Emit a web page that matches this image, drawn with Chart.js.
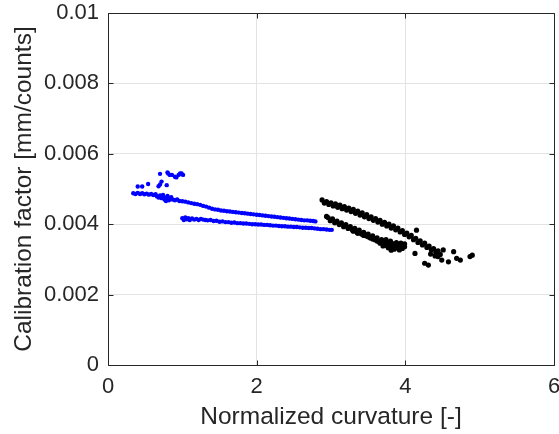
<!DOCTYPE html>
<html>
<head>
<meta charset="utf-8">
<script src="https://cdn.jsdelivr.net/npm/chart.js@4.4.0/dist/chart.umd.min.js"></script>
<style>
  html, body { margin: 0; padding: 0; background: #fff; }
  canvas { display: block; }
</style>
</head>
<body>
<canvas id="chart" width="559" height="434"></canvas>
<script>
// axis ticks
const xTicks = [0, 2, 4, 6];
const yTicks = [0, 0.002, 0.004, 0.006, 0.008, 0.01];

// blue series: upper branch
const blueUpperX = [0.34, 0.37, 0.40, 0.43, 0.46, 0.49, 0.52, 0.55, 0.58, 0.61, 0.64,
  0.66, 0.68, 0.70, 0.72, 0.74, 0.76, 0.78, 0.80, 0.82, 0.84, 0.87, 0.90, 0.93, 0.96,
  1.00, 1.04, 1.08, 1.12, 1.16, 1.20, 1.24, 1.28, 1.32, 1.36, 1.40, 1.44, 1.48, 1.52, 1.56,
  1.60, 1.64, 1.68, 1.72, 1.76, 1.80, 1.84, 1.88, 1.92, 1.96, 2.00, 2.04, 2.08, 2.12, 2.16,
  2.20, 2.24, 2.28, 2.32, 2.36, 2.40, 2.44, 2.48, 2.52, 2.56, 2.60, 2.64, 2.68, 2.72, 2.76, 2.79];
const blueUpperY = [0.00488, 0.00486, 0.00489, 0.00486, 0.00488, 0.00485, 0.00487, 0.00484, 0.00486, 0.00483, 0.00485,
  0.00479, 0.00476, 0.00482, 0.00474, 0.00478, 0.00470, 0.00475, 0.00472, 0.00468, 0.00474, 0.00470, 0.00468, 0.00470, 0.00466,
  0.00465, 0.00464, 0.00462, 0.00460, 0.00458, 0.00457, 0.00455, 0.00452, 0.00450, 0.00447, 0.00444, 0.00442, 0.00441, 0.00439, 0.00438,
  0.00437, 0.00436, 0.00435, 0.00434, 0.00433, 0.00432, 0.00431, 0.00430, 0.00429, 0.00428, 0.00427, 0.00426, 0.00425, 0.00424, 0.00423,
  0.00422, 0.00421, 0.00420, 0.00419, 0.00418, 0.00417, 0.00416, 0.00415, 0.00414, 0.00413, 0.00412, 0.00411, 0.00411, 0.00410, 0.00409, 0.00408];

// blue series: lower branch
const blueLowerX = [1.00, 1.02, 1.04, 1.06, 1.08, 1.10, 1.13, 1.16, 1.19, 1.22, 1.25, 1.28, 1.31, 1.34,
  1.38, 1.42, 1.46, 1.50, 1.54, 1.58, 1.62, 1.66, 1.70, 1.74, 1.78, 1.82, 1.86, 1.90, 1.94, 1.98,
  2.02, 2.06, 2.10, 2.14, 2.18, 2.22, 2.26, 2.30, 2.34, 2.38, 2.42, 2.46, 2.50, 2.54, 2.58, 2.62,
  2.66, 2.70, 2.74, 2.78, 2.82, 2.86, 2.90, 2.94, 2.98, 3.01];
const blueLowerY = [0.00417, 0.00412, 0.00419, 0.00414, 0.00417, 0.00412, 0.00416, 0.00413, 0.00415, 0.00412, 0.00415, 0.00413, 0.00412, 0.00411,
  0.00412, 0.00409, 0.00410, 0.00407, 0.00408, 0.00406, 0.00406, 0.00404, 0.00405, 0.00403, 0.00403, 0.00402, 0.00402, 0.00401, 0.00400, 0.00400,
  0.00399, 0.00399, 0.00398, 0.00398, 0.00397, 0.00396, 0.00396, 0.00395, 0.00394, 0.00394, 0.00393, 0.00393, 0.00392, 0.00392, 0.00391, 0.00390,
  0.00390, 0.00389, 0.00389, 0.00388, 0.00387, 0.00386, 0.00386, 0.00385, 0.00384, 0.00384];

// blue series: scattered points above the branch
const blueSpreadX = [0.40, 0.46, 0.54, 0.68, 0.70, 0.72, 0.79, 0.70, 0.80, 0.81, 0.83, 0.86, 0.90, 0.92, 0.95, 0.97, 0.99, 1.01, 0.74, 0.78, 0.80, 0.85];
const blueSpreadY = [0.00507, 0.00507, 0.00514, 0.00508, 0.00513, 0.00521, 0.00511, 0.00543, 0.00547, 0.00544, 0.00540, 0.00540, 0.00535, 0.00533, 0.00540, 0.00544, 0.00544, 0.00540, 0.00483, 0.00466, 0.00480, 0.00477];

// black series: upper branch
const blackUpperX = [2.88, 2.91, 2.94, 2.97, 3.00, 3.03, 3.06, 3.09, 3.12, 3.15, 3.18, 3.21, 3.24, 3.27, 3.30, 3.33, 3.36, 3.39,
  3.42, 3.45, 3.48, 3.51, 3.54, 3.57, 3.60, 3.63, 3.66, 3.69, 3.72, 3.75, 3.78, 3.81, 3.84, 3.87, 3.90, 3.93,
  3.96, 3.99, 4.02, 4.05, 4.08, 4.11, 4.14, 4.17, 4.20, 4.23, 4.26, 4.29, 4.32, 4.35, 4.38, 4.41, 4.44, 4.47];
const blackUpperY = [0.00469, 0.00460, 0.00464, 0.00456, 0.00461, 0.00452, 0.00458, 0.00448, 0.00454, 0.00444, 0.00450, 0.00440, 0.00446, 0.00436, 0.00442, 0.00431, 0.00437, 0.00426,
  0.00432, 0.00421, 0.00427, 0.00416, 0.00421, 0.00411, 0.00416, 0.00406, 0.00411, 0.00400, 0.00405, 0.00395, 0.00400, 0.00389, 0.00395, 0.00384, 0.00389, 0.00378,
  0.00382, 0.00371, 0.00375, 0.00364, 0.00368, 0.00356, 0.00360, 0.00348, 0.00353, 0.00341, 0.00346, 0.00334, 0.00338, 0.00327, 0.00331, 0.00320, 0.00324, 0.00314];

// black series: lower branch
const blackLowerX = [2.96, 2.99, 3.02, 3.05, 3.08, 3.11, 3.14, 3.17, 3.20, 3.23, 3.26, 3.29, 3.32,
  3.35, 3.38, 3.41, 3.44, 3.47, 3.50, 3.53, 3.56, 3.59, 3.62, 3.65, 3.68, 3.71,
  3.30, 3.36, 3.44, 3.50, 3.56, 3.62, 3.66];
const blackLowerY = [0.00419, 0.00410, 0.00415, 0.00404, 0.00409, 0.00399, 0.00404, 0.00393, 0.00399, 0.00388, 0.00393, 0.00383, 0.00388,
  0.00377, 0.00383, 0.00372, 0.00377, 0.00367, 0.00372, 0.00361, 0.00367, 0.00356, 0.00361, 0.00351, 0.00356, 0.00345,
  0.00380, 0.00374, 0.00368, 0.00364, 0.00358, 0.00352, 0.00346];

// black series: dense cluster at the end of the lower branch
const blackClusterX = [3.70, 3.72, 3.74, 3.74, 3.76, 3.77, 3.79, 3.80, 3.81, 3.82, 3.83, 3.85, 3.86, 3.88, 3.89, 3.90, 3.92, 3.93, 3.94, 3.96, 3.97, 3.99];
const blackClusterY = [0.00338, 0.00352, 0.00340, 0.00356, 0.00347, 0.00333, 0.00343, 0.00352, 0.00326, 0.00336, 0.00345, 0.00329, 0.00340, 0.00348, 0.00333, 0.00342, 0.00327, 0.00337, 0.00346, 0.00331, 0.00339, 0.00344];

// black series: scattered points
const blackSpreadX = [2.94, 4.15, 3.99, 4.13, 4.26, 4.31, 4.34, 4.40, 4.44, 4.49, 4.51, 4.58, 4.65, 4.69, 4.74, 4.87, 4.90];
const blackSpreadY = [0.00422, 0.00383, 0.00336, 0.00317, 0.00289, 0.00284, 0.00315, 0.00310, 0.00308, 0.00298, 0.00327, 0.00293, 0.00322, 0.00303, 0.00298, 0.00308, 0.00312];

const axisColor = "#262626";
const fontFamily = "'Liberation Sans', Arial, Helvetica, sans-serif";

function toPoints(xs, ys) {
  return xs.map((x, i) => ({ x: x, y: ys[i] }));
}

const bluePoints = [].concat(
  toPoints(blueUpperX, blueUpperY),
  toPoints(blueLowerX, blueLowerY),
  toPoints(blueSpreadX, blueSpreadY)
);
const blackPoints = [].concat(
  toPoints(blackUpperX, blackUpperY),
  toPoints(blackLowerX, blackLowerY),
  toPoints(blackClusterX, blackClusterY),
  toPoints(blackSpreadX, blackSpreadY)
);

// khung hộp kiểu MATLAB với vạch chia hướng vào trong
const boxPlugin = {
  id: "matlabBox",
  afterDatasetsDraw(chart) {
    const { ctx, chartArea: a, scales } = chart;
    const L = Math.round(a.left) + 0.5, R = Math.round(a.right) + 0.5;
    const T = Math.round(a.top) + 0.5, B = Math.round(a.bottom) + 0.5;
    ctx.save();
    ctx.strokeStyle = axisColor;
    ctx.lineWidth = 1;
    ctx.beginPath();
    ctx.rect(L, T, R - L, B - T);
    xTicks.forEach((v) => {
      const px = Math.round(scales.x.getPixelForValue(v)) + 0.5;
      ctx.moveTo(px, B); ctx.lineTo(px, B - 5);
      ctx.moveTo(px, T); ctx.lineTo(px, T + 5);
    });
    yTicks.forEach((v) => {
      const py = Math.round(scales.y.getPixelForValue(v)) + 0.5;
      ctx.moveTo(L, py); ctx.lineTo(L + 5, py);
      ctx.moveTo(R, py); ctx.lineTo(R - 5, py);
    });
    ctx.stroke();
    ctx.restore();
  },
};

new Chart(document.getElementById("chart"), {
  type: "scatter",
  data: {
    datasets: [
      {
        label: "blue",
        data: bluePoints,
        backgroundColor: "#0000ff",
        borderWidth: 0,
        pointRadius: 2.2,
      },
      {
        label: "black",
        data: blackPoints,
        backgroundColor: "#000000",
        borderWidth: 0,
        pointRadius: 2.6,
      },
    ],
  },
  options: {
    responsive: false,
    animation: false,
    devicePixelRatio: 1,
    layout: { padding: { top: 13, right: 5, left: 0, bottom: 0 } },
    plugins: {
      legend: { display: false },
      tooltip: { enabled: false },
    },
    scales: {
      x: {
        type: "linear",
        min: 0,
        max: 6,
        afterBuildTicks: (s) => { s.ticks = xTicks.map((v) => ({ value: v })); },
        afterFit: (s) => {
          s.height = 69;
          s.paddingLeft = 0; s.paddingRight = 0;
        },
        grid: { color: "#e3e3e3", drawTicks: false },
        border: { display: false },
        ticks: {
          color: axisColor,
          padding: 9,
          maxRotation: 0,
          font: { family: fontFamily, size: 22 },
          callback: (v) => String(v),
        },
        title: {
          display: true,
          text: "Normalized curvature [-]",
          color: axisColor,
          font: { family: fontFamily, size: 24.5 },
          padding: { top: 0, bottom: 2 },
        },
      },
      y: {
        type: "linear",
        min: 0,
        max: 0.01,
        afterBuildTicks: (s) => { s.ticks = yTicks.map((v) => ({ value: v })); },
        afterFit: (s) => {
          s.width = 108;
          s.paddingTop = 0; s.paddingBottom = 0;
        },
        grid: { color: "#e3e3e3", drawTicks: false },
        border: { display: false },
        ticks: {
          color: axisColor,
          padding: 9,
          font: { family: fontFamily, size: 22 },
          callback: (v) => String(Number(v.toFixed(3))),
        },
        title: {
          display: true,
          text: "Calibration factor [mm/counts]",
          color: axisColor,
          font: { family: fontFamily, size: 24.5 },
          padding: { top: 10, bottom: 0 },
        },
      },
    },
  },
  plugins: [boxPlugin],
});
</script>
</body>
</html>
